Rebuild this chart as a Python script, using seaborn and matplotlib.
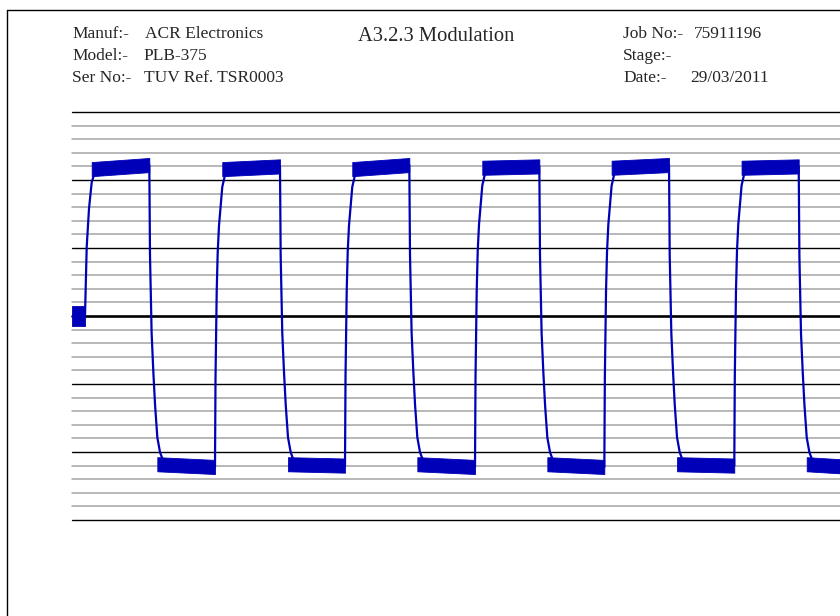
import numpy as np
import pandas as pd
import matplotlib
matplotlib.use("Agg")
import matplotlib.pyplot as plt
from matplotlib.lines import Line2D
import seaborn as sns

sns.set_theme(style="white")
plt.rcParams["font.family"] = ["Liberation Serif", "DejaVu Serif"]

# ---- header fields ----
header_left_labels = ["Manuf:-", "Model:-", "Ser No:-"]
header_left_values = ["ACR Electronics", "PLB-375", "TUV Ref. TSR0003"]
header_right_labels = ["Job No:-", "Stage:-", "Date:-"]
header_right_values = ["75911196", "", "29/03/2011"]
chart_title = "A3.2.3 Modulation"

# ---- measured phase trace (time in ms, phase in rad) ----
idle_level = 0.0
rise_ms = [0.250, 2.752, 5.254, 7.756, 10.245, 12.746]
fall_ms = [1.488, 4.003, 6.492, 8.994, 11.490, 13.986]
high_start = [1.08, 1.08, 1.08, 1.09, 1.09, 1.09]
high_end = [1.11, 1.10, 1.11, 1.10, 1.11, 1.10]
low_start = [-1.09, -1.09, -1.09, -1.09, -1.09, -1.09]
low_end = [-1.11, -1.10, -1.11, -1.11, -1.10, -1.11]
trace_end_ms = 15.0

# edge shapes: time after the edge (ms) and fraction of the step reached
first_rise_dt = [0.0, 0.033, 0.077, 0.129, 0.192]
first_rise_frac = [0.0, 0.47, 0.73, 0.91, 0.98]
rise_dt = [0.0, 0.010, 0.033, 0.052, 0.077, 0.140, 0.192]
rise_frac = [0.0, 0.30, 0.59, 0.72, 0.81, 0.94, 0.98]
fall_dt = [0.0, 0.013, 0.044, 0.077, 0.110, 0.154, 0.206, 0.269]
fall_frac = [0.0, 0.30, 0.56, 0.69, 0.80, 0.91, 0.96, 0.99]

# noise spread around the settled levels (rad)
idle_spread = 0.07
plateau_spread = 0.052

# ---- assemble trace ----
t_pts, v_pts = [0.0], [idle_level]
bands = [(0.0, rise_ms[0], idle_level, idle_level, idle_spread)]
prev = idle_level
for i in range(len(rise_ms)):
    dts, fr = (first_rise_dt, first_rise_frac) if i == 0 else (rise_dt, rise_frac)
    target = high_start[i]
    for d, f in zip(dts, fr):
        t_pts.append(rise_ms[i] + d)
        v_pts.append(prev + f * (target - prev))
    t_pts.append(fall_ms[i]); v_pts.append(high_end[i])
    bands.append((rise_ms[i] + dts[-2], fall_ms[i], target, high_end[i], plateau_spread))
    for d, f in zip(fall_dt, fall_frac):
        t_pts.append(fall_ms[i] + d)
        v_pts.append(high_end[i] + f * (low_start[i] - high_end[i]))
    t_next = rise_ms[i + 1] if i + 1 < len(rise_ms) else trace_end_ms
    t_pts.append(t_next); v_pts.append(low_end[i])
    bands.append((fall_ms[i] + fall_dt[-3], t_next, low_start[i], low_end[i], plateau_spread))
    prev = low_end[i]

trace = pd.DataFrame({"time_ms": t_pts, "phase_rad": v_pts})

# ---- figure ----
W, H = 840, 616
fig = plt.figure(figsize=(W / 100, H / 100), dpi=100)
fig.patch.set_facecolor("white")
ax = fig.add_axes([72 / W, 1 - 520 / H, 1 - 72 / W, (520 - 112) / H])
ax.set_xlim(0, (W - 72) / 51.96)
ax.set_ylim(-1.5, 1.5)
for s in ax.spines.values():
    s.set_visible(False)
ax.set_xticks([]); ax.set_yticks([])
ax.set_facecolor("white")

# graticule
for k in range(-15, 16):
    y = k / 10
    if k == 0:
        ax.axhline(y, color="black", lw=1.9, clip_on=False, zorder=1)
    elif k % 5 == 0:
        ax.axhline(y, color="black", lw=1.0, clip_on=False, zorder=1)
    else:
        ax.axhline(y, color="#a4a4a4", lw=1.1, clip_on=False, zorder=0.5)

blue = "#0000b8"
for t0, t1, v0, v1, sp in bands:
    cc = np.array([v0, v1])
    ax.fill_between([t0, t1], cc - sp, cc + sp, color=blue, lw=0.6,
                    edgecolor=blue, zorder=2)

sns.lineplot(data=trace, x="time_ms", y="phase_rad", sort=False, estimator=None,
             color=blue, lw=1.6, ax=ax, zorder=3)
ax.set_xlabel(""); ax.set_ylabel("")

# page frame
fig.add_artist(Line2D([7 / W, 7 / W], [0, 1 - 10 / H], transform=fig.transFigure,
                      color="black", lw=1.0))
fig.add_artist(Line2D([7 / W, 1], [1 - 10 / H, 1 - 10 / H], transform=fig.transFigure,
                      color="black", lw=1.0))

# header text
fs = 12.5
rows_y = [37.5, 59.5, 82.0]
for lab, val, y, xv in zip(header_left_labels, header_left_values, rows_y, [145, 143.5, 143.5]):
    fig.text(72 / W, 1 - y / H, lab, fontsize=fs, va="baseline", ha="left")
    fig.text(xv / W, 1 - y / H, val, fontsize=fs, va="baseline", ha="left")
for lab, val, y, xv in zip(header_right_labels, header_right_values, rows_y, [694, 694, 690]):
    fig.text(623 / W, 1 - y / H, lab, fontsize=fs, va="baseline", ha="left")
    if val:
        fig.text(xv / W, 1 - y / H, val, fontsize=fs, va="baseline", ha="left")
fig.text(358 / W, 1 - 41 / H, chart_title, fontsize=14.8, va="baseline", ha="left")

fig.savefig("out.png", dpi=100)
